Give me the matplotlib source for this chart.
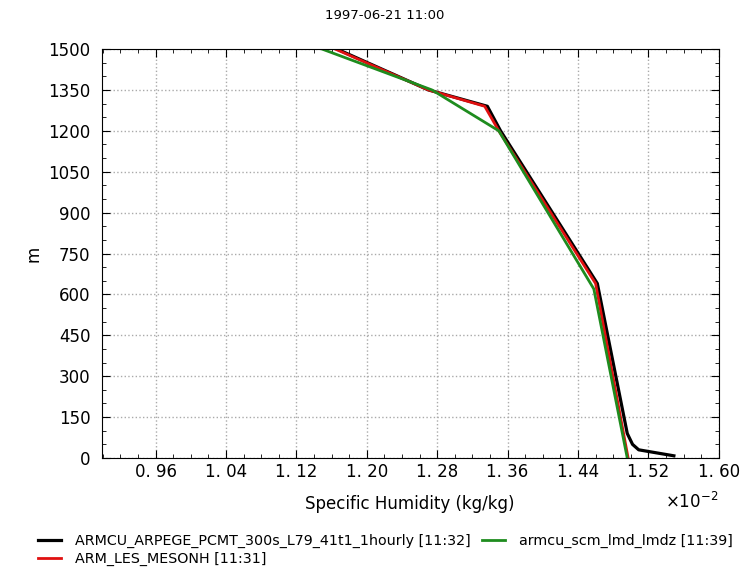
import matplotlib
matplotlib.use("Agg")
import matplotlib.pyplot as plt
import numpy as np
from matplotlib.ticker import FuncFormatter, MultipleLocator, AutoMinorLocator

# specific humidity (kg/kg) vs height (m)
z_arpege = [8, 30, 50, 90, 640, 1200, 1290, 1350, 1500]
q_arpege = [0.01549, 0.01509, 0.01502, 0.01496, 0.01462, 0.01352, 0.01337, 0.01270, 0.01166]

z_les = [0, 640, 1200, 1290, 1350, 1500]
q_les = [0.01497, 0.01460, 0.01350, 0.01334, 0.01270, 0.01164]

z_lmdz = [0, 620, 1200, 1350, 1500]
q_lmdz = [0.01496, 0.01458, 0.01350, 0.01274, 0.01149]

labels = ["ARMCU_ARPEGE_PCMT_300s_L79_41t1_1hourly [11:32]",
          "ARM_LES_MESONH [11:31]",
          "armcu_scm_lmd_lmdz [11:39]"]
colors = ["black", "#e01010", "#1e8c1e"]

fig = plt.figure(figsize=(7.55, 5.7), dpi=100)
ax = fig.add_axes([0.1347, 0.1965, 0.8173, 0.7175])

ax.plot(q_arpege, z_arpege, color=colors[0], lw=2.3, label=labels[0])
ax.plot(q_les, z_les, color=colors[1], lw=2.0, label=labels[1])
ax.plot(q_lmdz, z_lmdz, color=colors[2], lw=2.0, label=labels[2])

ax.set_xlim(0.008987, 0.0160)
ax.set_ylim(0, 1500)
ax.xaxis.set_major_locator(MultipleLocator(0.0008))
ax.xaxis.set_minor_locator(AutoMinorLocator(4))
ax.yaxis.set_major_locator(MultipleLocator(150))
ax.yaxis.set_minor_locator(AutoMinorLocator(3))
ax.xaxis.set_major_formatter(FuncFormatter(lambda v, p: ("%.2f" % (v * 100)).replace(".", ". ")))
ax.tick_params(which="both", direction="in", top=True, right=True, labelsize=12)
ax.tick_params(which="major", length=6)
ax.tick_params(which="minor", length=3)
ax.tick_params(axis="y", pad=8)
ax.grid(True, which="major", linestyle=":", color="#aaaaaa", lw=1)

ax.set_xlabel("Specific Humidity (kg/kg)", fontsize=12, labelpad=10)
ax.set_ylabel("m", fontsize=12)
fig.suptitle("1997-06-21 11:00", fontsize=9.5, x=0.51, y=0.985)
ax.text(1.0, -0.083, r"$\times10^{-2}$", transform=ax.transAxes, ha="right", va="top", fontsize=12)

fig.legend(loc="upper left", bbox_to_anchor=(0.033, 0.086), ncol=2, frameon=False,
           fontsize=10.3, handlelength=1.6, handletextpad=1.0, columnspacing=0.8, labelspacing=0.3)

fig.savefig("out.png", dpi=100)
